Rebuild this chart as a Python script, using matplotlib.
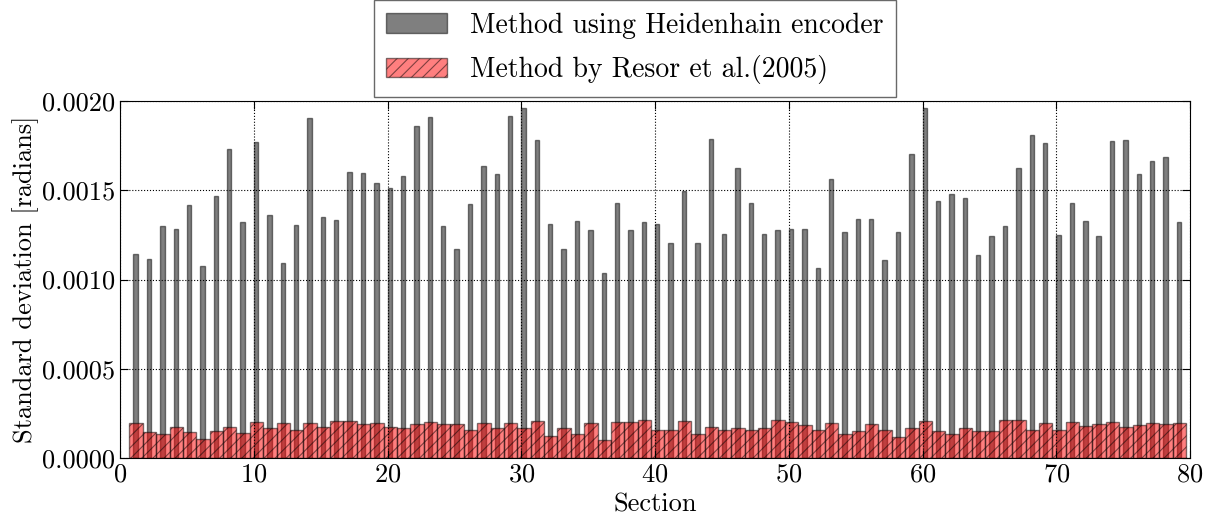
import numpy as np
import matplotlib
matplotlib.use("Agg")
import matplotlib.pyplot as plt
from matplotlib.ticker import FormatStrFormatter, MultipleLocator

plt.rcParams['font.family'] = 'cmr10'
plt.rcParams['mathtext.fontset'] = 'cm'
plt.rcParams['axes.formatter.use_mathtext'] = True
plt.rcParams['hatch.linewidth'] = 0.8

sections = np.arange(1, 80)

# std dev per section, Heidenhain encoder method
heidenhain = [
    0.001141, 0.001114, 0.001298, 0.001281, 0.001416, 0.001075, 0.001469, 0.001732, 0.001321, 0.001769,
    0.001362, 0.001090, 0.001306, 0.001904, 0.001349, 0.001334, 0.001602, 0.001597, 0.001538, 0.001512,
    0.001578, 0.001859, 0.001910, 0.001300, 0.001173, 0.001420, 0.001636, 0.001589, 0.001917, 0.001962,
    0.001780, 0.001313, 0.001173, 0.001330, 0.001279, 0.001034, 0.001431, 0.001279, 0.001324, 0.001309,
    0.001203, 0.001497, 0.001203, 0.001788, 0.001255, 0.001623, 0.001426, 0.001257, 0.001276, 0.001283,
    0.001281, 0.001066, 0.001563, 0.001268, 0.001341, 0.001338, 0.001109, 0.001268, 0.001700, 0.001962,
    0.001437, 0.001478, 0.001458, 0.001135, 0.001244, 0.001302, 0.001627, 0.001807, 0.001763, 0.001248,
    0.001428, 0.001326, 0.001242, 0.001775, 0.001782, 0.001591, 0.001664, 0.001685, 0.001321,
]

# std dev per section, Resor et al. (2005)
resor = [
    0.000195, 0.000144, 0.000133, 0.000176, 0.000144, 0.000109, 0.000150, 0.000176, 0.000139, 0.000201,
    0.000171, 0.000195, 0.000159, 0.000195, 0.000176, 0.000206, 0.000206, 0.000189, 0.000195, 0.000176,
    0.000171, 0.000189, 0.000201, 0.000189, 0.000189, 0.000156, 0.000195, 0.000167, 0.000195, 0.000171,
    0.000206, 0.000126, 0.000171, 0.000133, 0.000195, 0.000099, 0.000201, 0.000201, 0.000212, 0.000156,
    0.000156, 0.000206, 0.000133, 0.000176, 0.000156, 0.000167, 0.000156, 0.000171, 0.000212, 0.000201,
    0.000184, 0.000159, 0.000195, 0.000133, 0.000150, 0.000189, 0.000159, 0.000116, 0.000171, 0.000206,
    0.000150, 0.000133, 0.000167, 0.000150, 0.000150, 0.000212, 0.000212, 0.000159, 0.000195, 0.000159,
    0.000201, 0.000178, 0.000189, 0.000201, 0.000173, 0.000184, 0.000195, 0.000189, 0.000195,
]

fig = plt.figure(figsize=(12.15, 5.2), dpi=100)
ax = fig.add_axes([0.0988, 0.119, 0.8807, 0.687])

ax.bar(sections, heidenhain, width=0.33, align='edge', color='k', alpha=0.5,
       edgecolor='k', linewidth=1.0, label='Method using Heidenhain encoder')
ax.bar(sections - 0.3, resor, width=1.0, align='edge', color='r', alpha=0.5,
       edgecolor='k', linewidth=1.0, hatch='///', label='Method by Resor et al.(2005)')

ax.set_xlim(0, 80)
ax.set_ylim(0, 0.002)
ax.xaxis.set_major_locator(MultipleLocator(10))
ax.yaxis.set_major_locator(MultipleLocator(0.0005))
ax.yaxis.set_major_formatter(FormatStrFormatter('%.4f'))
ax.tick_params(direction='in', labelsize=19, length=6, top=True, right=True)
ax.grid(True, linestyle=':', color='k', linewidth=0.8)
ax.set_axisbelow(False)

ax.set_xlabel('Section', fontsize=19, labelpad=4)
ax.set_ylabel('Standard deviation [radians]', fontsize=19, labelpad=2)

leg = ax.legend(loc='lower center', bbox_to_anchor=(0.481, 1.0), fontsize=20,
                fancybox=False, handlelength=2.2, borderpad=0.45, labelspacing=0.6,
                borderaxespad=0.15)
leg.get_frame().set_edgecolor('#444444')

fig.savefig('out.png', dpi=100)
